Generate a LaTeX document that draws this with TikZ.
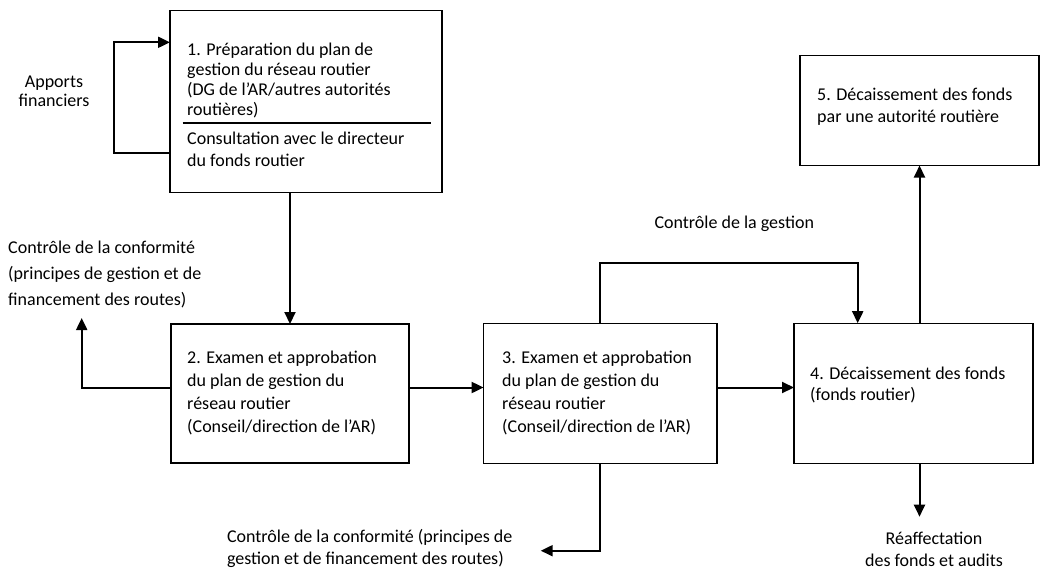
\documentclass[tikz,border=0pt]{standalone}
\usepackage{fontspec}
\setmainfont{Carlito}
\usetikzlibrary{arrows.meta}
\begin{document}
\begin{tikzpicture}[x=1pt,y=-1pt,
  box/.style={draw, line width=1.1pt, inner sep=0pt, outer sep=0pt},
  conn/.style={line width=2pt, -{Triangle[length=12pt,width=11pt]}},
  sepline/.style={line width=2pt},
  txt/.style={inner sep=0pt, anchor=base west, align=left, font=\fontsize{18}{#1}\selectfont},
  txt/.default=23,
  ctxt/.style={inner sep=0pt, anchor=base, align=center, font=\fontsize{18}{#1}\selectfont},
  ctxt/.default=22
]
\useasboundingbox (0,0) rectangle (1044,571);
% boxes
\node[box, minimum width=272, minimum height=182] (b1) at (306,101.8) {};
\node[box, minimum width=238, minimum height=139] (b2) at (290,393.5) {};
\node[box, minimum width=233.4, minimum height=140] (b3) at (600.3,393.2) {};
\node[box, minimum width=239, minimum height=140] (b4) at (913.5,393.2) {};
\node[box, minimum width=239, minimum height=110] (b5) at (919.5,110.5) {};
% box texts (anchor = baseline of last line)
\node[txt=20] (t1a) at (187,115) {1. Préparation du plan de\\gestion du réseau routier\\(DG de l’AR/autres autorités\\routières)};
\node[txt=22] (t1b) at (187,166) {Consultation avec le directeur\\du fonds routier};
\draw[sepline] (182.7,123.3) -- (431,123.3);
\node[txt] (t2) at (187,432.5) {2. Examen et approbation\\du plan de gestion du\\réseau routier\\(Conseil/direction de l’AR)};
\node[txt] (t3) at (502,432.5) {3. Examen et approbation\\du plan de gestion du\\réseau routier\\(Conseil/direction de l’AR)};
\node[txt=21] (t4) at (810,400) {4. Décaissement des fonds\\(fonds routier)};
\node[txt=22] (t5) at (817,122) {5. Décaissement des fonds\\par une autorité routière};
% free labels
\node[ctxt=19] (lapp) at (54,106) {Apports\\financiers};
\node[txt=26] (lconf1) at (8,305.5) {Contrôle de la conformité\\(principes de gestion et de\\financement des routes)};
\node[ctxt] (lgest) at (734.3,228.5) {Contrôle de la gestion};
\node[txt=22] (lconf2) at (226.8,564) {Contrôle de la conformité (principes de\\gestion et de financement des routes)};
\node[ctxt] (lreaf) at (934,566) {Réaffectation\\des fonds et audits};
% connectors
\draw[conn] (b1.west |- 0,153.3) -- (114.3,153.3) -- (114.3,42.3) -- (b1.west |- 0,42.3);
\draw[conn] (b2.north |- b1.south) -- (b2.north);
\coordinate (c2up) at (81.7,318);
\draw[conn] (b2.west |- 0,387.5) -- (81.7,387.5) -- (c2up);
\draw[conn] (b2.east |- 0,387.5) -- (b3.west |- 0,387.5);
\draw[conn] (b3.east |- 0,387.5) -- (b4.west |- 0,387.5);
\draw[conn] (b3.north) -- (b3.north |- 0,262.7) -- (857.7,262.7) -- (857.7,0 |- b4.north);
\draw[conn] (b4.north -| b5.south) -- (b5.south);
\coordinate (c3down) at (540.7,550.7);
\draw[conn] (b3.south) -- (b3.south |- c3down) -- (c3down);
\coordinate (c4down) at (919.5,516.7);
\draw[conn] (b4.south -| c4down) -- (c4down);
\end{tikzpicture}
\end{document}
